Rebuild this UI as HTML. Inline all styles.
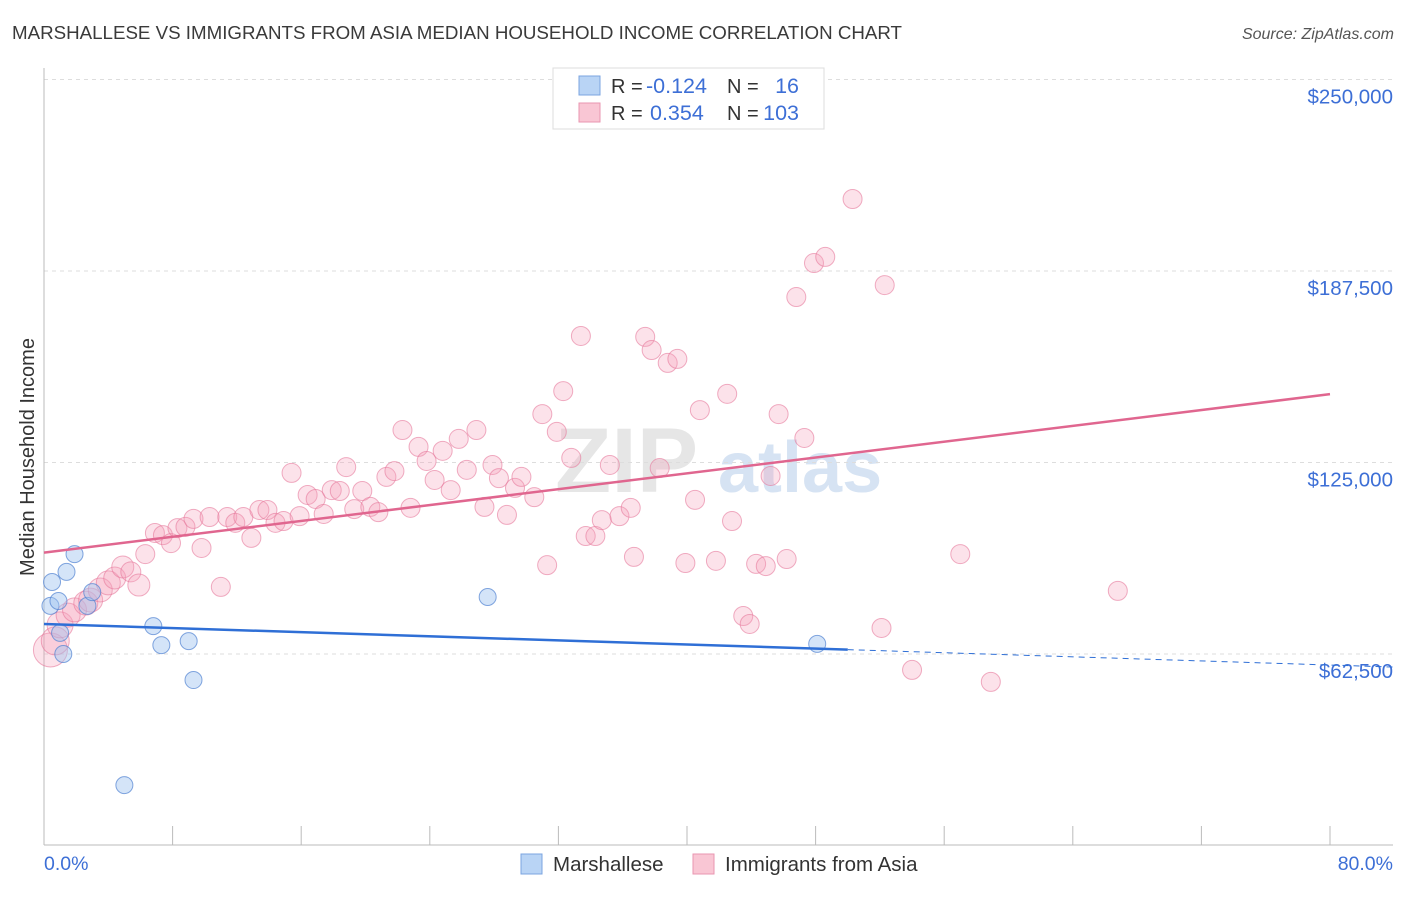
<!DOCTYPE html>
<html><head><meta charset="utf-8"><style>
body{margin:0;background:#fff;font-family:"Liberation Sans",sans-serif}
svg text{font-family:"Liberation Sans",sans-serif}
</style></head><body>
<svg id="chart" width="1406" height="892" xmlns="http://www.w3.org/2000/svg">
<text x="12" y="39" font-size="18.8" fill="#3a3a3a" textLength="890" lengthAdjust="spacingAndGlyphs">MARSHALLESE VS IMMIGRANTS FROM ASIA MEDIAN HOUSEHOLD INCOME CORRELATION CHART</text>
<text x="1394" y="39" font-size="16" fill="#555" font-style="italic" text-anchor="end">Source: ZipAtlas.com</text>
<g><text x="555" y="492" font-size="92" fill="#e6e6e6" font-family="Liberation Serif" font-weight="bold">ZIP</text><text x="718" y="492" font-size="72" fill="#d6e3f3" font-weight="bold">atlas</text></g>
<g id="grid"></g>
<g id="axes"></g>
<g id="marks"></g>
<text transform="translate(34,457) rotate(-90)" font-size="20" fill="#333" text-anchor="middle">Median Household Income</text>
<g>
<rect x="553" y="68" width="271" height="61" fill="#fff" stroke="#ddd"/>
<rect x="579" y="76" width="21" height="19" fill="#b9d4f5" stroke="#7ba4e0"/>
<rect x="579" y="103" width="21" height="19" fill="#f9c6d4" stroke="#e996b0"/>
<text x="611" y="93" font-size="20" fill="#333">R =</text><text x="646" y="93" font-size="21.5" fill="#3d6fd6">-0.124</text>
<text x="727" y="93" font-size="20" fill="#333">N =</text><text x="799" y="93" font-size="21.5" fill="#3d6fd6" text-anchor="end">16</text>
<text x="611" y="120" font-size="20" fill="#333">R =</text><text x="650" y="120" font-size="21.5" fill="#3d6fd6">0.354</text>
<text x="727" y="120" font-size="20" fill="#333">N =</text><text x="799" y="120" font-size="21.5" fill="#3d6fd6" text-anchor="end">103</text>
</g>
<g>
<rect x="521" y="854" width="21" height="20" fill="#b9d4f5" stroke="#7ba4e0"/>
<text x="553" y="871" font-size="20.5" fill="#333">Marshallese</text>
<rect x="693" y="854" width="21" height="20" fill="#f9c6d4" stroke="#e996b0"/>
<text x="725" y="871" font-size="20.5" fill="#333">Immigrants from Asia</text>
</g>
</svg>
<script>
const xTicks=[0,8,16,24,32,40,48,56,64,72,80];
const yTicks=[62500,125000,187500,250000];
const yTickLabels=["$62,500","$125,000","$187,500","$250,000"];
const xTickLabels=["0.0%","80.0%"];
const asiaX=[0.4,0.7,1.0,1.5,1.9,2.6,2.9,3.5,4.0,4.4,4.9,5.4,5.9,6.3,6.9,7.4,7.9,8.3,8.8,9.3,9.8,10.3,11.0,11.4,11.9,12.4,12.9,13.4,13.9,14.4,14.9,15.4,15.9,16.4,16.9,17.4,17.9,18.4,18.8,19.3,19.8,20.3,20.8,21.3,21.8,22.3,22.8,23.3,23.8,24.3,24.8,25.3,25.8,26.3,26.9,27.4,27.9,28.3,28.8,29.3,29.7,30.5,31.0,31.3,31.9,32.3,32.8,33.4,33.7,34.3,34.7,35.2,35.8,36.5,36.7,37.4,37.8,38.3,38.8,39.4,39.9,40.5,40.8,41.8,42.5,42.8,43.5,43.9,44.3,44.9,45.2,45.7,46.2,46.8,47.3,47.9,48.6,50.3,52.1,52.3,54.0,57.0,58.9,66.8];
const asiaY=[63.8,66.8,72.0,75.2,76.9,79.1,80.1,83.4,85.7,87.3,90.9,89.3,85.0,95.1,102.0,101.3,98.7,103.6,104.0,106.6,97.1,107.2,84.4,107.2,105.3,107.2,100.4,109.5,109.5,105.3,105.9,121.6,107.5,114.4,113.1,108.2,116.0,115.7,123.5,109.8,115.7,110.5,108.8,120.3,122.2,135.6,110.2,130.1,125.5,119.3,128.8,116.0,132.7,122.6,135.6,110.5,124.2,119.9,107.9,116.7,120.3,113.7,140.8,91.5,135.0,148.3,126.5,166.3,101.0,101.0,106.2,124.2,107.5,110.2,94.2,166.0,161.7,123.2,157.5,158.8,92.2,112.8,142.1,92.9,147.4,105.9,74.9,72.3,91.9,91.2,120.6,140.8,93.5,179.0,133.0,190.1,192.1,211.0,71.0,182.9,57.3,95.1,53.4,83.1];
const asiaSize=[17,14,13,12,12,12,12,12,12,11,11,10,11];
const marshX=[0.4,0.5,0.9,1.0,1.2,1.4,1.9,2.7,3.0,5.0,6.8,7.3,9.0,9.3,27.6,48.1];
const marshY=[78.2,86.0,79.8,69.4,62.5,89.3,95.1,78.2,82.7,19.7,71.6,65.4,66.7,54.0,81.1,65.8];
const asiaTrend=[95.6,147.3];   // income (k) at 0% and 80%
const marshTrend=[72.3,58.9];
const marshSolidEnd=50;
const NS="http://www.w3.org/2000/svg";
const X0=44,X1=1330,YB=654,YPX=191.5;
const xs=v=>X0+(v/80)*(X1-X0);
const ys=v=>YB-(v-62500)/62500*YPX;
const yk=v=>ys(v*1000);
function mk(tag,attrs,parent){const e=document.createElementNS(NS,tag);for(const k in attrs)e.setAttribute(k,attrs[k]);document.getElementById(parent).appendChild(e);return e;}
yTicks.forEach((t,i)=>{
 const l=mk('line',{x1:X0,x2:1393,y1:ys(t),y2:ys(t),stroke:'#ddd','stroke-dasharray':'4,4'},'grid');
 
 
 const tx=mk('text',{x:1393,y:ys(t)+24,'font-size':20.5,fill:'#3d6fd6','text-anchor':'end'},'axes');
 tx.textContent=yTickLabels[i];
 
 
});
let a=mk('line',{x1:X0,x2:X0,y1:68,y2:845,stroke:'#bbb'},'axes');


a=mk('line',{x1:X0,x2:1393,y1:845,y2:845,stroke:'#bbb'},'axes');


xTicks.forEach(t=>{const l=mk('line',{x1:xs(t),x2:xs(t),y1:826,y2:845,stroke:'#bbb'},'axes');
 
 });
let t0=mk('text',{x:44,y:870,'font-size':19.5,fill:'#3d6fd6'},'axes');t0.textContent=xTickLabels[0];


t0=mk('text',{x:1393,y:870,'font-size':19.5,fill:'#3d6fd6','text-anchor':'end'},'axes');t0.textContent=xTickLabels[1];


asiaX.forEach((v,i)=>{const c=mk('circle',{cx:xs(v),cy:yk(asiaY[i]),r:asiaSize[i]||9.5,fill:'rgba(244,160,186,0.3)',stroke:'rgba(230,120,155,0.6)','stroke-width':1},'marks');
 
 });
marshX.forEach((v,i)=>{const c=mk('circle',{cx:xs(v),cy:yk(marshY[i]),r:8.5,fill:'rgba(160,196,240,0.45)',stroke:'rgba(80,130,210,0.7)','stroke-width':1},'marks');
 
 });
const mAt=p=>marshTrend[0]+(marshTrend[1]-marshTrend[0])*p/80;
let l=mk('line',{x1:xs(0),y1:yk(asiaTrend[0]),x2:xs(80),y2:yk(asiaTrend[1]),stroke:'#e0668f','stroke-width':2.5},'marks');


l=mk('line',{x1:xs(0),y1:yk(mAt(0)),x2:xs(marshSolidEnd),y2:yk(mAt(marshSolidEnd)),stroke:'#2f6fd6','stroke-width':2.5},'marks');


l=mk('line',{x1:xs(marshSolidEnd),y1:yk(mAt(marshSolidEnd)),x2:xs(84),y2:yk(mAt(84)),stroke:'#2f6fd6','stroke-width':1,'stroke-dasharray':'6,5'},'marks');


</script>
</body></html>
